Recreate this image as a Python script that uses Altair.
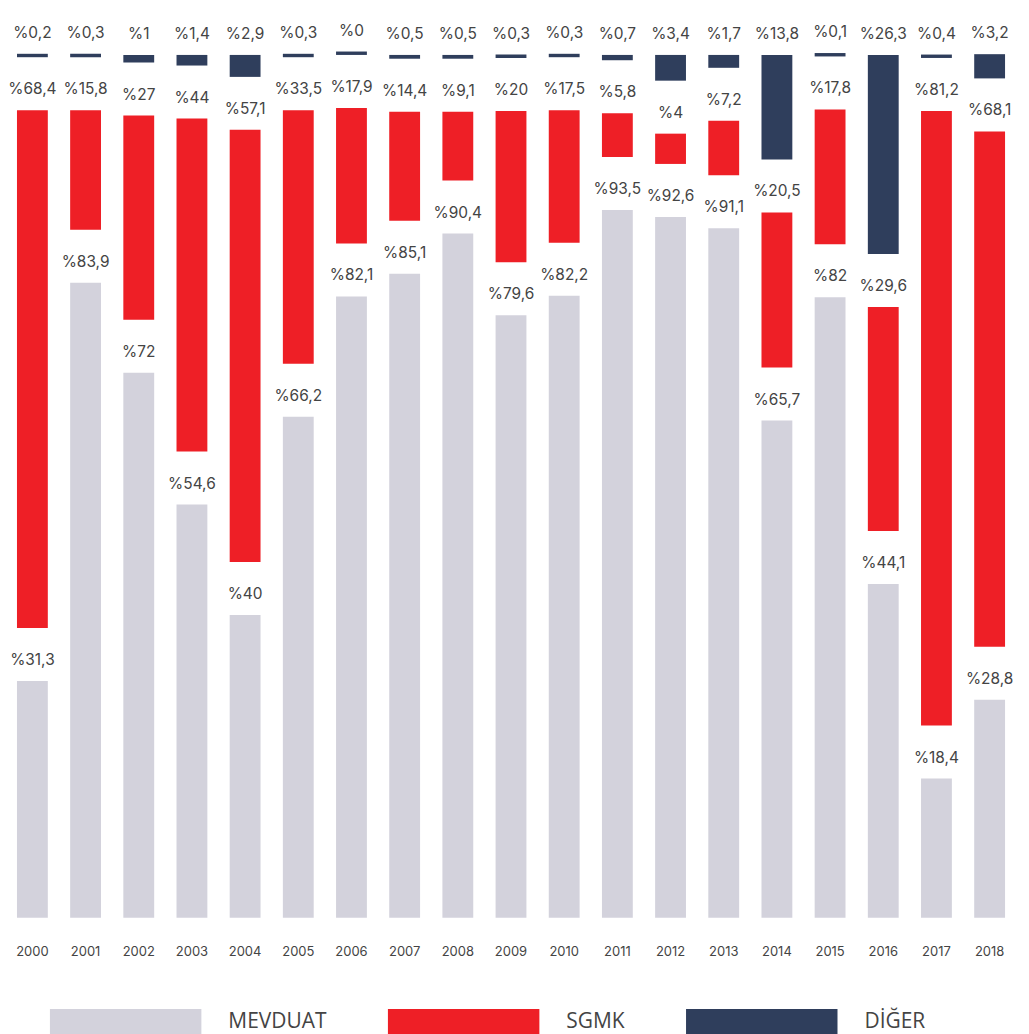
import altair as alt
import pandas as pd

years = [str(y) for y in range(2000, 2019)]
mevduat = [31.3, 83.9, 72, 54.6, 40, 66.2, 82.1, 85.1, 90.4, 79.6, 82.2, 93.5, 92.6, 91.1, 65.7, 82, 44.1, 18.4, 28.8]
sgmk = [68.4, 15.8, 27, 44, 57.1, 33.5, 17.9, 14.4, 9.1, 20, 17.5, 5.8, 4, 7.2, 20.5, 17.8, 29.6, 81.2, 68.1]
diger = [0.2, 0.3, 1, 1.4, 2.9, 0.3, 0, 0.5, 0.5, 0.3, 0.3, 0.7, 3.4, 1.7, 13.8, 0.1, 26.3, 0.4, 3.2]

categories = ["MEVDUAT", "SGMK", "DİĞER"]
colors = ["#d3d2dc", "#ee1f26", "#2f3e5c"]

GAP = 7.0      # visual gap between segments (value units)
MINH = 0.45    # minimum visible thickness

df = pd.DataFrame({"year": years, "m": mevduat, "s": sgmk, "d": diger})

base = alt.Chart(df).transform_calculate(
    m0="0",
    m1="datum.m",
    s0=f"datum.m + {GAP}",
    s1=f"datum.m + {GAP} + datum.s",
    d0=f"datum.m + datum.s + {2*GAP}",
    d1=f"datum.m + datum.s + {2*GAP} + max(datum.d, {MINH})",
    lm="'%' + replace(toString(datum.m), '.', ',')",
    ls="'%' + replace(toString(datum.s), '.', ',')",
    ld="'%' + replace(toString(datum.d), '.', ',')",
)

xenc = alt.X(
    "year:N",
    title=None,
    scale=alt.Scale(paddingInner=0.42, paddingOuter=0.075),
    axis=alt.Axis(labelAngle=0, ticks=False, domain=False, labelPadding=28,
                  labelFontSize=13, labelFont="Inter", labelColor="#444"),
)
yscale = alt.Scale(domain=[0, 120], nice=False, zero=True)

# wide swatch drawn beyond the unit box (152 x 25 px)
path = "M-6,-1L6,-1L6,1L-6,1Z"
legend = alt.Legend(
    orient="none", legendX=100, legendY=1002, direction="horizontal",
    title=None, symbolType=path, symbolSize=641, symbolStrokeWidth=0,
    symbolOpacity=1, labelFontSize=21, labelFont="Open Sans", labelColor="#444",
    labelOffset=90, columnPadding=61, padding=0,
)
cenc = lambda: alt.Color("cat:N", scale=alt.Scale(domain=categories, range=colors), legend=legend, sort=categories)

def bars(lo, hi, cat):
    return base.transform_calculate(cat=f"'{cat}'").mark_bar().encode(
        x=xenc,
        y=alt.Y(f"{lo}:Q", scale=yscale, axis=None),
        y2=f"{hi}:Q",
        color=cenc(),
    )

def labels(top, txt):
    return base.mark_text(dy=-21, fontSize=15.5, font="Inter", color="#444", baseline="middle").encode(
        x=xenc,
        y=alt.Y(f"{top}:Q", scale=yscale, axis=None),
        text=f"{txt}:N",
    )

chart = alt.layer(
    bars("m0", "m1", "MEVDUAT"),
    bars("s0", "s1", "SGMK"),
    bars("d0", "d1", "DİĞER"),
    labels("m1", "lm"),
    labels("s1", "ls"),
    labels("d1", "ld"),
).properties(
    width=999, height=911,
    autosize=alt.AutoSizeParams(type="none"),
    padding={"left": 5, "top": 0, "right": 12, "bottom": 118},
).configure_view(stroke=None)

chart.save("out.html", embed_options={"renderer": "svg", "actions": False})
